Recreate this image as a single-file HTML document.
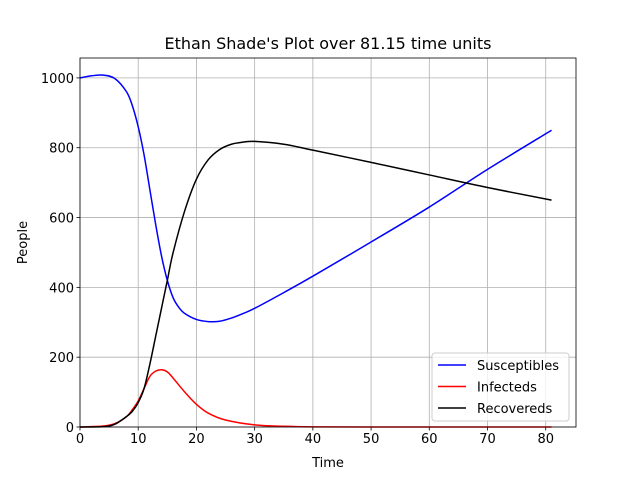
<!DOCTYPE html>
<html><head><meta charset="utf-8"><style>
body{margin:0;background:#fff;}
svg{display:block;font-family:"DejaVu Sans","Liberation Sans",sans-serif;}
</style></head><body>
<svg id="chart" width="640" height="480"></svg>
<script>
const xTicks=[0,10,20,30,40,50,60,70,80];
const yTicks=[0,200,400,600,800,1000];
const sT=[0,2,4,6,8,9,10,11,12,13,14,15,16,17,18,20,22,24,26,28,30,35,40,50,60,70,81];
const sV=[1000,1006,1008,998,960,920,860,780,680,580,490,420,370,342,325,308,302,303,312,325,340,385,432,530,630,738,850];
const iT=[0,4,6,8,9,10,11,12,13,14,15,16,18,20,22,25,30,35,40,50,81];
const iV=[0,3,10,30,50,75,110,145,160,164,158,140,100,65,40,20,6,2,0.5,0,0];
const rT=[0,4,6,8,9,10,11,12,13,14,15,16,18,20,22,24,26,28,30,35,40,50,60,70,81];
const rV=[0,1,8,30,45,70,110,180,260,340,420,500,620,710,765,795,810,816,818,810,793,758,722,686,650];
const L=80,R=576,T=58,B=427,XMAX=85.2,YMAX=1057;
const X=v=>L+v/XMAX*(R-L), Y=v=>B-v/YMAX*(B-T);
const svg=document.getElementById('chart');const NS='http://www.w3.org/2000/svg';
function el(t,a,txt){const e=document.createElementNS(NS,t);for(const k in a)e.setAttribute(k,a[k]);if(txt!==undefined)e.textContent=txt;svg.appendChild(e);return e;}
xTicks.forEach(t=>{
 const g=el('line',{x1:X(t),x2:X(t),y1:T,y2:B,stroke:'#b0b0b0','stroke-width':0.8});
 
 
 el('line',{x1:X(t),x2:X(t),y1:B,y2:B+3.5,stroke:'#000','stroke-width':0.8});
 const lb=el('text',{x:X(t),y:B+16,'text-anchor':'middle','font-size':13},t);
 
 
});
yTicks.forEach(t=>{
 const g=el('line',{x1:L,x2:R,y1:Y(t),y2:Y(t),stroke:'#b0b0b0','stroke-width':0.8});
 
 
 el('line',{x1:L-3.5,x2:L,y1:Y(t),y2:Y(t),stroke:'#000','stroke-width':0.8});
 const lb=el('text',{x:L-6,y:Y(t)+5,'text-anchor':'end','font-size':13},t);
 
 
});
function line(ts,vs,c,n){
 const p=ts.map((t,i)=>[X(t),Y(vs[i])]);
 let d='M'+p[0][0]+','+p[0][1];
 for(let i=0;i<p.length-1;i++){
  const p0=p[Math.max(0,i-1)],p1=p[i],p2=p[i+1],p3=p[Math.min(p.length-1,i+2)];
  const c1=[p1[0]+(p2[0]-p0[0])/6,p1[1]+(p2[1]-p0[1])/6];
  const c2=[p2[0]-(p3[0]-p1[0])/6,p2[1]-(p3[1]-p1[1])/6];
  d+=' C'+c1+' '+c2+' '+p2;
 }
 const e=el('path',{d:d,fill:'none',stroke:c,'stroke-width':1.5,'stroke-linejoin':'round'});
 
 
}
line(sT,sV,'#0000ff','susceptibles-line');
line(iT,iV,'#ff0000','infecteds-line');
line(rT,rV,'#000000','recovereds-line');
const fr=el('rect',{x:L,y:T,width:R-L,height:B-T,fill:'none',stroke:'#000','stroke-width':0.8});


const ti=el('text',{x:(L+R)/2,y:49,'text-anchor':'middle','font-size':16},"Ethan Shade's Plot over 81.15 time units");


const xt=el('text',{x:(L+R)/2,y:467,'text-anchor':'middle','font-size':13},'Time');


const yt=el('text',{x:27,y:(T+B)/2,'text-anchor':'middle','font-size':13,transform:'rotate(-90 27 '+((T+B)/2)+')'},'People');


const lg=el('rect',{x:432,y:353,width:137,height:68,rx:3,fill:'#fff','fill-opacity':0.8,stroke:'#ccc','stroke-width':1});


[['Susceptibles','#0000ff'],['Infecteds','#ff0000'],['Recovereds','#000']].forEach((d,i)=>{
 const y=365+i*21.5;
 el('line',{x1:438,x2:466,y1:y,y2:y,stroke:d[1],'stroke-width':1.5});
 const t=el('text',{x:477,y:y+5,'font-size':13},d[0]);
 
 
});
</script>
</body></html>
